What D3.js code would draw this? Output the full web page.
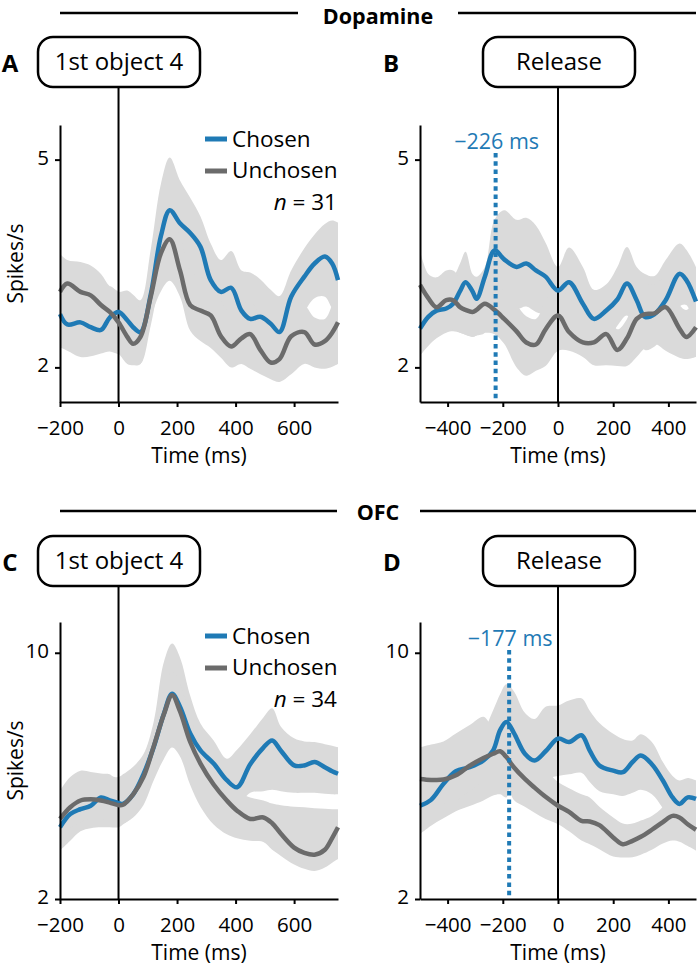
<!DOCTYPE html>
<html><head><meta charset="utf-8">
<script src="https://cdn.jsdelivr.net/npm/d3@7"></script>
<style>body{margin:0;background:#fff} svg text{font-family:"Open Sans",sans-serif}</style>
</head><body><svg id="c" width="700" height="967"></svg>
<script>
// ---------- data ----------
const tA = [-200,-175,-130,-95,-60,-30,0,30,50,75,110,145,175,210,245,280,315,350,385,420,450,485,520,550,590,635,670,705,730,750];
const chosenA = [2.77,2.62,2.65,2.58,2.54,2.72,2.80,2.68,2.58,2.51,3.05,3.90,4.27,4.08,3.94,3.74,3.26,3.09,3.15,2.82,2.70,2.73,2.63,2.51,3.02,3.31,3.50,3.60,3.50,3.26];
const unchosenA = [3.09,3.21,3.09,3.04,2.90,2.80,2.65,2.44,2.34,2.44,3.02,3.65,3.85,3.40,2.90,2.82,2.75,2.45,2.30,2.42,2.48,2.25,2.07,2.12,2.45,2.51,2.33,2.38,2.50,2.65];
const chosenHiA = [3.27,3.12,3.15,3.08,3.04,3.17,3.09,3.11,3.05,2.97,3.70,4.65,5.03,4.70,4.45,4.18,3.79,3.55,3.68,3.40,3.37,3.27,3.12,3.03,3.40,3.72,3.92,4.07,4.12,4.09];
const chosenLoA = [2.29,2.24,2.15,2.16,2.20,2.23,2.19,2.18,2.08,2.05,2.60,3.30,3.60,3.50,3.30,3.10,2.75,2.60,2.60,2.35,2.20,2.20,2.10,2.00,2.45,2.80,3.00,3.02,2.85,2.75];
const unchosenHiA = [3.64,3.55,3.52,3.47,3.35,3.17,3.09,2.95,2.85,2.90,3.50,4.10,4.30,3.90,3.40,3.30,3.25,2.95,2.80,2.90,2.95,2.75,2.60,2.60,2.95,2.90,2.72,2.70,2.90,3.10];
const unchosenLoA = [2.60,2.70,2.60,2.55,2.40,2.30,2.20,2.05,2.03,2.05,2.70,3.10,3.25,3.02,2.53,2.38,2.28,2.14,2.00,2.05,1.98,1.90,1.83,1.79,1.90,2.05,2.00,1.98,2.01,2.05];

const tB = [-500,-470,-440,-405,-380,-355,-335,-310,-295,-265,-230,-195,-150,-115,-80,-45,0,40,90,130,175,215,250,285,315,350,390,440,465,500];
const chosenB = [2.56,2.73,2.82,2.85,2.92,3.10,3.23,3.10,2.99,3.31,3.69,3.56,3.45,3.50,3.40,3.31,3.11,3.23,2.92,2.70,2.82,2.98,3.21,2.97,2.73,2.77,2.97,3.35,3.26,2.95];
const unchosenB = [3.19,3.00,2.87,2.97,2.97,2.87,2.83,2.80,2.83,2.92,2.83,2.70,2.52,2.36,2.33,2.55,2.75,2.51,2.36,2.36,2.48,2.25,2.42,2.70,2.77,2.78,2.87,2.56,2.44,2.58];
const chosenHiB = [3.00,3.20,3.28,3.28,3.31,3.50,3.67,3.35,3.31,3.45,4.13,4.27,4.13,4.16,4.05,3.80,3.45,3.73,3.45,3.12,3.20,3.45,3.74,3.45,3.35,3.32,3.55,3.79,3.70,3.45];
const chosenLoB = [2.17,2.31,2.42,2.50,2.52,2.50,2.47,2.44,2.46,2.50,3.10,3.00,2.85,2.88,2.80,2.75,2.60,2.70,2.45,2.25,2.35,2.60,2.75,2.45,2.25,2.30,2.50,2.88,2.90,2.50];
const unchosenHiB = [3.69,3.35,3.30,3.40,3.40,3.30,3.25,3.20,3.25,3.30,3.25,3.10,2.90,2.74,2.70,2.95,3.20,3.00,2.85,2.80,2.85,2.55,2.70,3.10,3.20,3.20,3.30,2.90,2.83,3.00];
const unchosenLoB = [2.80,2.60,2.50,2.55,2.55,2.50,2.47,2.44,2.46,2.50,2.48,2.34,2.00,1.88,1.95,2.02,2.24,2.24,2.15,2.03,2.03,2.02,2.02,2.15,2.28,2.34,2.24,2.14,2.12,2.15];

const tC = [-200,-165,-130,-95,-60,-30,0,15,50,85,120,155,183,210,245,280,325,370,405,450,495,525,555,600,635,670,705,730,750];
const chosenC = [4.33,4.76,4.92,5.03,5.30,5.20,5.12,5.09,5.40,6.05,6.93,8.02,8.67,8.25,7.38,6.83,6.40,5.86,5.63,6.38,6.92,7.15,6.82,6.34,6.34,6.45,6.28,6.15,6.07];
const unchosenC = [4.60,4.98,5.20,5.24,5.20,5.13,5.05,5.06,5.40,5.96,6.95,8.00,8.62,8.10,7.10,6.40,5.72,5.20,4.87,4.60,4.65,4.46,4.12,3.67,3.50,3.44,3.60,3.98,4.33];
const chosenHiC = [5.10,5.50,5.70,5.80,6.00,6.00,5.96,6.05,6.30,6.70,7.75,9.70,10.30,9.85,8.60,7.70,7.15,6.56,6.85,7.35,7.90,8.20,7.60,7.22,7.12,7.10,7.03,6.98,6.93];
const chosenLoC = [3.57,3.89,4.20,4.30,4.33,4.33,4.33,4.42,4.70,5.20,6.00,7.00,7.60,7.30,6.50,6.00,5.60,5.15,5.00,5.45,5.50,5.55,5.50,5.45,5.45,5.45,5.42,5.40,5.40];
const unchosenHiC = [5.52,5.96,6.17,6.13,6.08,6.05,5.80,5.80,6.10,6.60,7.60,8.80,9.40,9.00,7.90,7.10,6.40,5.90,5.50,5.30,5.20,5.10,5.05,5.00,4.98,4.95,4.93,4.92,4.92];
const unchosenLoC = [4.00,4.30,4.50,4.60,4.60,4.50,4.45,4.45,4.65,5.05,5.85,6.55,6.92,6.63,5.70,5.00,4.42,4.10,3.97,3.89,3.85,3.60,3.40,3.12,2.98,2.91,3.02,3.18,3.30];

const tD = [-500,-460,-415,-370,-320,-270,-235,-210,-187,-160,-120,-85,-45,0,40,85,115,150,200,235,270,300,340,380,415,440,470,500];
const chosenD = [5.03,5.22,5.74,6.15,6.28,6.50,6.83,7.48,7.75,7.40,6.72,6.50,6.80,7.21,7.10,7.32,6.82,6.34,6.17,6.12,6.45,6.66,6.38,5.85,5.30,5.09,5.30,5.25];
const unchosenD = [5.90,5.87,5.88,6.02,6.33,6.58,6.72,6.80,6.61,6.28,5.90,5.62,5.32,5.03,4.83,4.54,4.52,4.40,4.00,3.78,3.89,4.02,4.25,4.50,4.70,4.65,4.43,4.25];
const chosenHiD = [6.00,6.10,6.60,7.00,7.20,7.50,8.13,8.65,8.98,8.75,8.05,7.85,8.25,8.29,8.45,8.52,8.12,7.72,7.37,7.20,7.15,7.35,7.10,6.45,6.00,5.85,5.93,5.85];
const chosenLoD = [4.11,4.38,4.62,4.85,5.02,5.20,5.36,5.40,5.30,6.30,5.90,5.70,5.90,6.00,6.05,6.10,5.80,5.50,5.40,5.35,5.45,5.55,5.40,4.95,4.50,4.30,4.45,4.40];
const unchosenHiD = [6.93,7.02,7.12,7.38,7.65,7.92,7.60,7.70,7.50,7.10,6.80,6.50,6.20,5.80,5.60,5.40,5.30,5.00,4.65,4.45,4.45,4.55,4.70,5.00,5.50,5.50,5.30,5.20];
const unchosenLoD = [5.10,5.10,5.10,5.20,5.50,5.80,5.90,6.00,5.80,5.22,5.00,4.80,4.60,4.43,4.20,3.90,3.78,3.62,3.38,3.35,3.36,3.44,3.60,3.80,3.90,3.86,3.72,3.57];

const xTicksEvent = [-200, 0, 200, 400, 600];
const xTicksRelease = [-400, -200, 0, 200, 400];
const yTicksDA = [2, 5];
const yTicksOFC = [2, 10];
const seriesNames = ["Chosen", "Unchosen"];
const sectionTitles = ["Dopamine", "OFC"];
const panelLetters = ["A", "B", "C", "D"];
const eventLabels = ["1st object 4", "Release", "1st object 4", "Release"];
const nLabels = ["31", "34"];
const latencies = [-226, -177];

// ---------- style ----------
const BLUE = "#1f7ab5", GRAY = "#6b6b6b", BAND = "#dadada";
const svg = d3.select("#c");
const fmt = d => d < 0 ? "\u2212" + Math.abs(d) : String(d);

function section(title, lineY, baseY, l0, l1, r0, r1) {
  svg.append("line").attr("x1", l0).attr("x2", l1).attr("y1", lineY).attr("y2", lineY).attr("stroke", "#000").attr("stroke-width", 2.5);
  svg.append("line").attr("x1", r0).attr("x2", r1).attr("y1", lineY).attr("y2", lineY).attr("stroke", "#000").attr("stroke-width", 2.5);
  svg.append("text").attr("x", 378).attr("y", baseY).attr("text-anchor", "middle")
    .attr("font-weight", "bold").attr("font-size", 21.5).text(title);
}

function panel(c) {
  const x = d3.scaleLinear().domain(c.xDomain).range([c.x0, c.x1]);
  const y = d3.scaleLinear().domain(c.yDomain).range([c.yBot, c.yTop]);
  const g = svg.append("g");
  const idx = d3.range(c.t.length);
  const area = (lo, hi) => d3.area().curve(d3.curveCatmullRom.alpha(0.5))
    .x(i => x(c.t[i])).y0(i => y(lo[i])).y1(i => y(hi[i]));
  const line = v => d3.line().curve(d3.curveCatmullRom.alpha(0.5))
    .x(i => x(c.t[i])).y(i => y(v[i]));

  g.append("path").attr("d", area(c.cLo, c.cHi)(idx)).attr("fill", BAND);
  g.append("path").attr("d", area(c.uLo, c.uHi)(idx)).attr("fill", BAND);

  // event box + zero line
  g.append("line").attr("x1", x(0)).attr("x2", x(0)).attr("y1", c.box[1] + c.box[3]).attr("y2", c.yBot)
    .attr("stroke", "#000").attr("stroke-width", 2);
  g.append("rect").attr("x", c.box[0]).attr("y", c.box[1]).attr("width", c.box[2]).attr("height", c.box[3])
    .attr("rx", 15).attr("fill", "#fff").attr("stroke", "#000").attr("stroke-width", 2.5);
  g.append("text").attr("x", c.box[0] + c.box[2] / 2).attr("y", c.box[1] + 33).attr("text-anchor", "middle")
    .attr("font-size", 24).text(c.event);
  g.append("text").attr("x", c.letterX).attr("y", c.box[1] + 35).attr("text-anchor", "middle")
    .attr("font-weight", "bold").attr("font-size", 24).text(c.letter);

  g.append("path").attr("d", line(c.chosen)(idx)).attr("fill", "none").attr("stroke", BLUE)
    .attr("stroke-width", 4.5).attr("stroke-linejoin", "round");
  g.append("path").attr("d", line(c.unchosen)(idx)).attr("fill", "none").attr("stroke", GRAY)
    .attr("stroke-width", 4.5).attr("stroke-linejoin", "round");

  // axes
  const ax = g.append("g").attr("transform", `translate(0,${c.yBot})`)
    .call(d3.axisBottom(x).tickValues(c.xTicks).tickSize(5).tickSizeOuter(0).tickPadding(13).tickFormat(fmt));
  const ay = g.append("g").attr("transform", `translate(${c.x0},0)`)
    .call(d3.axisLeft(y).tickValues(c.yTicks).tickSize(5).tickSizeOuter(0).tickPadding(6).tickFormat(fmt));
  [ax, ay].forEach(a => {
    a.attr("font-family", null).attr("font-size", 20.5);
    a.selectAll("path,line").attr("stroke", "#000").attr("stroke-width", 2);
    a.selectAll("text").attr("fill", "#000");
  });
  ay.selectAll("text").attr("dy", "0.22em");
  g.append("text").attr("x", (c.x0 + c.x1) / 2).attr("y", c.yBot + 61).attr("text-anchor", "middle")
    .attr("font-size", 21).text("Time (ms)");
  if (c.ylabel) {
    g.append("text").attr("transform", `translate(23,${(c.yTop + c.yBot) / 2}) rotate(-90)`)
      .attr("text-anchor", "middle").attr("font-size", 21).text("Spikes/s");
  }
  if (c.n) {
    const lx = c.x0 + 145;
    [[BLUE, seriesNames[0], 14, 22], [GRAY, seriesNames[1], 46, 53]].forEach(([col, name, sy, ty]) => {
      g.append("line").attr("x1", lx).attr("x2", lx + 22).attr("y1", c.yTop + sy).attr("y2", c.yTop + sy)
        .attr("stroke", col).attr("stroke-width", 5);
      g.append("text").attr("x", lx + 27).attr("y", c.yTop + ty).attr("font-size", 22.5).text(name);
    });
    const nt = g.append("text").attr("x", c.x0 + 277).attr("y", c.yTop + 85).attr("text-anchor", "end").attr("font-size", 22.5);
    nt.append("tspan").attr("font-style", "italic").text("n");
    nt.append("tspan").text(" = " + c.n);
  }
  if (c.latency !== undefined) {
    g.append("line").attr("x1", x(c.latency)).attr("x2", x(c.latency)).attr("y1", c.yTop + 28).attr("y2", c.yBot)
      .attr("stroke", BLUE).attr("stroke-width", 4).attr("stroke-dasharray", "4.5,3.8");
    g.append("text").attr("x", x(c.latency) + 1).attr("y", c.yTop + 24).attr("text-anchor", "middle")
      .attr("font-size", 21.5).attr("fill", BLUE).text(fmt(c.latency) + " ms");
  }
}

section(sectionTitles[0], 13, 24, 60, 298, 458, 696);
section(sectionTitles[1], 511, 520, 60, 337, 420, 696);

panel({x0: 60, x1: 338, yTop: 125, yBot: 402, xDomain: [-200, 750], yDomain: [1.5, 5.5],
  xTicks: xTicksEvent, yTicks: yTicksDA, t: tA, chosen: chosenA, unchosen: unchosenA,
  cHi: chosenHiA, cLo: chosenLoA, uHi: unchosenHiA, uLo: unchosenLoA,
  box: [38, 37, 162, 50], event: eventLabels[0], letter: panelLetters[0], letterX: 10, ylabel: true, n: nLabels[0]});
panel({x0: 420, x1: 696, yTop: 125, yBot: 402, xDomain: [-500, 500], yDomain: [1.5, 5.5],
  xTicks: xTicksRelease, yTicks: yTicksDA, t: tB, chosen: chosenB, unchosen: unchosenB,
  cHi: chosenHiB, cLo: chosenLoB, uHi: unchosenHiB, uLo: unchosenLoB,
  box: [483, 37, 152, 50], event: eventLabels[1], letter: panelLetters[1], letterX: 391, latency: latencies[0]});
panel({x0: 60, x1: 338, yTop: 622, yBot: 899, xDomain: [-200, 750], yDomain: [2, 11],
  xTicks: xTicksEvent, yTicks: yTicksOFC, t: tC, chosen: chosenC, unchosen: unchosenC,
  cHi: chosenHiC, cLo: chosenLoC, uHi: unchosenHiC, uLo: unchosenLoC,
  box: [38, 536, 162, 50], event: eventLabels[2], letter: panelLetters[2], letterX: 10, ylabel: true, n: nLabels[1]});
panel({x0: 420, x1: 696, yTop: 622, yBot: 899, xDomain: [-500, 500], yDomain: [2, 11],
  xTicks: xTicksRelease, yTicks: yTicksOFC, t: tD, chosen: chosenD, unchosen: unchosenD,
  cHi: chosenHiD, cLo: chosenLoD, uHi: unchosenHiD, uLo: unchosenLoD,
  box: [483, 536, 152, 50], event: eventLabels[3], letter: panelLetters[3], letterX: 392, latency: latencies[1]});
</script>
</body></html>
